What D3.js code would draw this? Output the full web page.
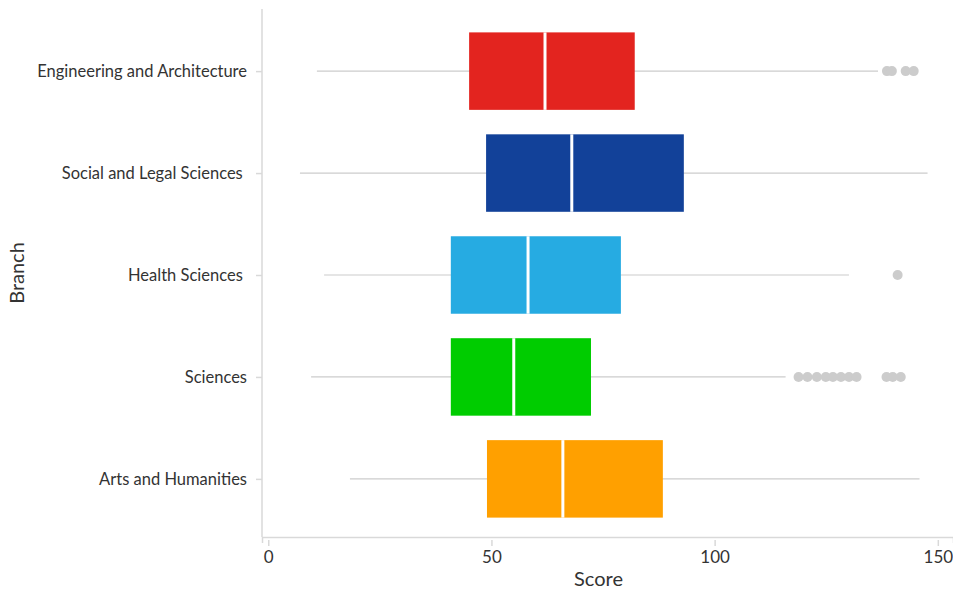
<!DOCTYPE html>
<html>
<head>
<meta charset="utf-8">
<script src="https://cdn.jsdelivr.net/npm/d3@7"></script>
<style>
  html, body { margin: 0; padding: 0; background: #fff; }
  text { font-family: Lato, "Open Sans", sans-serif; fill: #333; white-space: pre; }
</style>
</head>
<body>
<svg id="chart" width="953" height="590"></svg>
<script>
const categories = ["Engineering and Architecture", "Social and Legal Sciences ", "Health Sciences ", "Sciences", "Arts and Humanities"];
const colors = ["#e3241f", "#124199", "#26abe2", "#00cc00", "#ffa000"];
// [low whisker, q1, median, q3, high whisker]
const boxStats = [
  [10.9, 45.0, 62.0, 82.1, 136.6],
  [7.1, 48.8, 68.0, 93.1, 147.7],
  [12.5, 40.9, 58.2, 79.0, 130.1],
  [9.6, 40.9, 55.0, 72.3, 115.9],
  [18.3, 49.0, 66.0, 88.4, 145.9]
];
const outliers = [
  [138.6, 139.7, 142.8, 144.6],
  [],
  [141.0],
  [118.8, 120.8, 122.9, 124.9, 126.5, 128.3, 130.1, 131.8, 138.5, 139.9, 141.7],
  []
];
const xTicks = [0, 50, 100, 150];

const svg = d3.select("#chart");
const mLeft = 262, mRight = 953, mTop = 9, mBottom = 537;

const x = d3.scaleLinear().domain([-1.4, 153.4]).range([mLeft, mRight]);
const y = d3.scalePoint().domain(categories).range([12, 538]).padding(0.58);
const boxH = y.step() * 0.76;

// axes
const xAxis = svg.append("g").attr("transform", `translate(0,${mBottom})`)
  .call(d3.axisBottom(x).tickValues(xTicks).tickSize(6).tickPadding(6));
xAxis.select(".domain").attr("stroke", "#d9d9d9").attr("stroke-width", 1.5);
xAxis.selectAll(".tick line").attr("stroke", "#d9d9d9").attr("stroke-width", 1.5).attr("y1", 3).attr("y2", 9);
xAxis.selectAll(".tick text").style("font-size", "17px").style("font-family", "Lato").attr("fill", "#333").attr("dy", "0.85em");

const yAxis = svg.append("g").attr("transform", `translate(${mLeft},0)`)
  .call(d3.axisLeft(y).tickSize(6).tickPadding(9));
yAxis.select(".domain").attr("stroke", "#d9d9d9").attr("stroke-width", 1.5).attr("d", `M0,${mTop}V${mBottom}`);
yAxis.selectAll(".tick line").attr("stroke", "#d9d9d9").attr("stroke-width", 1.5);
yAxis.selectAll(".tick text").style("font-size", "16.5px").style("font-family", "Lato").style("white-space", "pre").attr("fill", "#333");

// boxes
const g = svg.append("g");
categories.forEach((c, i) => {
  const s = boxStats[i];
  const cy = y(c);
  g.append("line").attr("x1", x(s[0])).attr("x2", x(s[4])).attr("y1", cy).attr("y2", cy)
    .attr("stroke", "#cccccc").attr("stroke-width", 1.2);
  g.append("rect").attr("x", x(s[1])).attr("width", x(s[3]) - x(s[1]))
    .attr("y", cy - boxH / 2).attr("height", boxH).attr("fill", colors[i]);
  g.append("line").attr("x1", x(s[2])).attr("x2", x(s[2])).attr("y1", cy - boxH / 2).attr("y2", cy + boxH / 2)
    .attr("stroke", "#ffffff").attr("stroke-width", 3);
  g.selectAll(null).data(outliers[i]).enter().append("circle")
    .attr("cx", d => x(d)).attr("cy", cy).attr("r", 5).attr("fill", "#cccccc");
});

svg.append("text").attr("x", (mLeft + mRight) / 2 - 9).attr("y", 586).attr("text-anchor", "middle")
  .style("font-size", "20px").text("Score");
svg.append("text").attr("transform", `translate(24,${(mTop + mBottom) / 2}) rotate(-90)`).attr("text-anchor", "middle")
  .style("font-size", "20px").text("Branch");
</script>
</body>
</html>
